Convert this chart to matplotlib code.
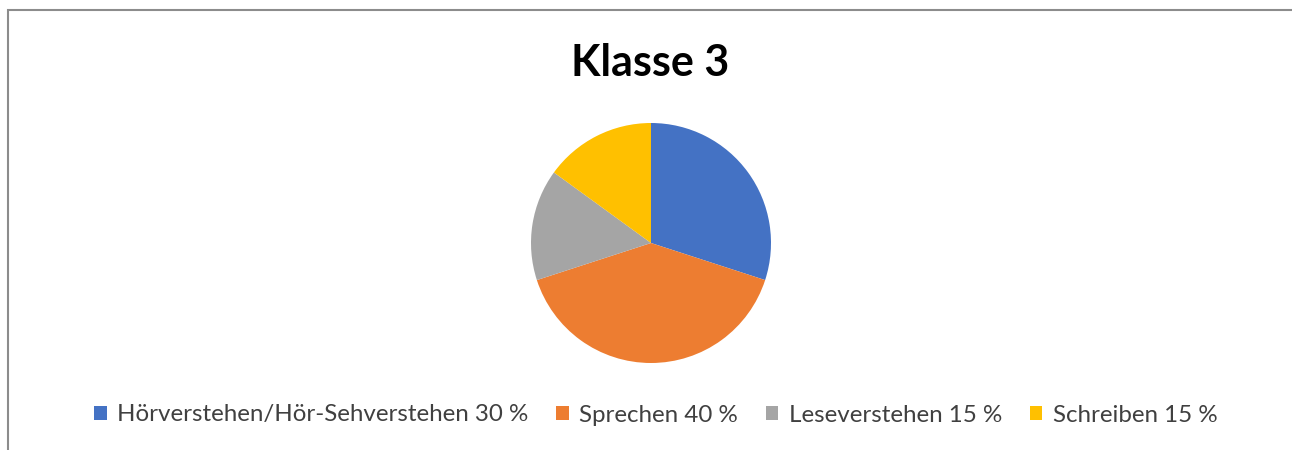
import matplotlib
matplotlib.use("Agg")
import matplotlib.pyplot as plt
from matplotlib.patches import Rectangle, Patch

title = "Klasse 3"
categories = ["Hörverstehen/Hör-Sehverstehen", "Sprechen", "Leseverstehen", "Schreiben"]
values = [30, 40, 15, 15]
label_suffix = ["30 %", "40 %", "15 %", "15 %"]
colors = ["#4472C4", "#ED7D31", "#A5A5A5", "#FFC000"]

W, H = 1292, 450
fig = plt.figure(figsize=(W / 100, H / 100), dpi=100)
fig.patch.set_facecolor("white")

# chart frame (cropped screenshot: top and left visible)
fig.add_artist(Rectangle((8 / W, -0.1), 1.2, (H - 10) / H + 0.1, transform=fig.transFigure,
                         fill=False, edgecolor="#8C8C8C", linewidth=1.5))

cx, cy, r = 651, 243, 120
ax = fig.add_axes([(cx - r) / W, (H - cy - r) / H, 2 * r / W, 2 * r / H])
wedges, _ = ax.pie(values, colors=colors, startangle=90, counterclock=False,
                   wedgeprops=dict(linewidth=0))
ax.set_aspect("equal")
ax.set_xlim(-1, 1)
ax.set_ylim(-1, 1)
ax.axis("off")

fig.text(650 / W, 1 - 63 / H, title, ha="center", va="center",
         fontsize=31, fontweight="bold", family=["Lato", "DejaVu Sans"], color="#000000")

labels = [f"{c} {s}" for c, s in zip(categories, label_suffix)]
handles = [Patch(facecolor=c, edgecolor="none") for c in colors]
leg = fig.legend(handles, labels, loc="center", bbox_to_anchor=(656 / W, 1 - 415 / H),
                 ncol=4, frameon=False, handlelength=0.5, handleheight=0.5,
                 handletextpad=0.45, columnspacing=1.15,
                 prop=dict(family=["Lato", "DejaVu Sans"], size=17.4))
for t in leg.get_texts():
    t.set_color("#404040")

fig.savefig("out.png", dpi=100)
